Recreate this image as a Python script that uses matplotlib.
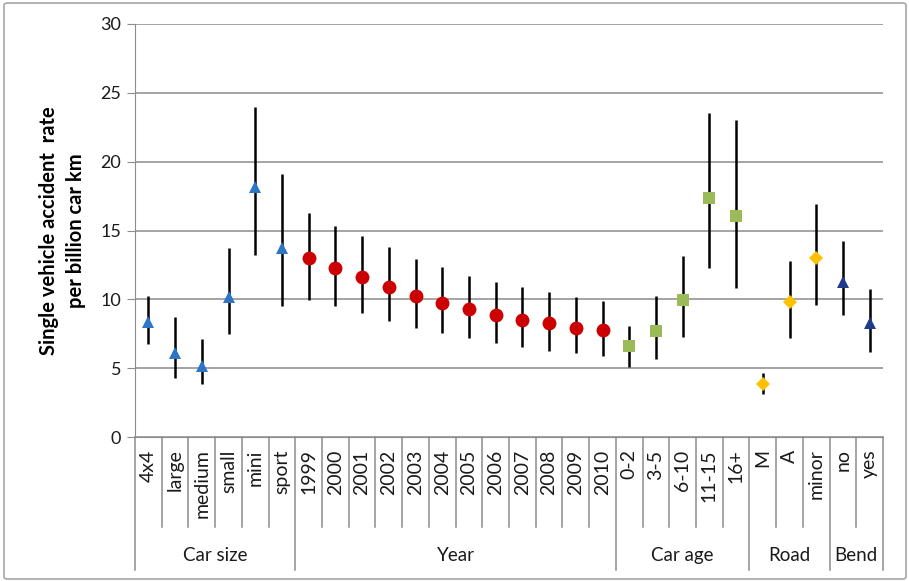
import matplotlib.pyplot as plt
import matplotlib.transforms as mtransforms
from matplotlib.patches import FancyBboxPatch
import numpy as np

plt.rcParams['font.family'] = ['Lato', 'DejaVu Sans']

# Groups of categories along the x axis
group_names = ["Car size", "Year", "Car age", "Road", "Bend"]

size_labels = ["4x4", "large", "medium", "small", "mini", "sport"]
size_rate = [8.37, 6.12, 5.18, 10.19, 18.13, 13.70]
size_lo = [6.73, 4.31, 3.85, 7.46, 13.22, 9.51]
size_hi = [10.26, 8.69, 7.12, 13.75, 23.99, 19.08]

year_labels = ["1999", "2000", "2001", "2002", "2003", "2004",
               "2005", "2006", "2007", "2008", "2009", "2010"]
year_rate = [12.97, 12.25, 11.60, 10.92, 10.24, 9.71, 9.27, 8.86, 8.50, 8.26, 7.94, 7.77]
year_lo = [9.95, 9.51, 9.03, 8.42, 7.89, 7.53, 7.17, 6.85, 6.56, 6.25, 6.12, 5.88]
year_hi = [16.29, 15.32, 14.60, 13.78, 12.93, 12.32, 11.72, 11.23, 10.87, 10.51, 10.15, 9.90]

age_labels = ["0-2", "3-5", "6-10", "11-15", "16+"]
age_rate = [6.61, 7.72, 9.95, 17.33, 16.05]
age_lo = [5.10, 5.64, 7.29, 12.25, 10.80]
age_hi = [8.08, 10.24, 13.17, 23.55, 23.02]

road_labels = ["M", "A", "minor"]
road_rate = [3.85, 9.78, 13.02]
road_lo = [3.10, 7.17, 9.59]
road_hi = [4.62, 12.81, 16.90]

bend_labels = ["no", "yes"]
bend_rate = [11.28, 8.26]
bend_lo = [8.86, 6.20]
bend_hi = [14.23, 10.75]

groups = [
    (size_labels, size_rate, size_lo, size_hi, '^', '#2E75C6', 9),
    (year_labels, year_rate, year_lo, year_hi, 'o', '#CC0000', 10),
    (age_labels, age_rate, age_lo, age_hi, 's', '#9BBB59', 9),
    (road_labels, road_rate, road_lo, road_hi, 'D', '#FFC000', 7),
    (bend_labels, bend_rate, bend_lo, bend_hi, '^', '#1F3C88', 9),
]

W, H = 909, 581
fig = plt.figure(figsize=(W / 100, H / 100), dpi=100)

# chart area border
fig.patches.append(FancyBboxPatch((4 / W, 2 / H), 902 / W, 576 / H,
                                  boxstyle="round,pad=0,rounding_size=0.004",
                                  transform=fig.transFigure, fill=False,
                                  edgecolor='#A6A6A6', lw=1.2))

ax = fig.add_axes([135 / W, 1 - 437 / H, 748 / W, 413 / H])

grid_c = '#8C8C8C'
text_c = '#1A1A1A'
all_labels = []
start = 0
bounds = [-0.5]
for labels, rate, lo, hi, mk, col, ms in groups:
    x = np.arange(start, start + len(labels))
    rate = np.array(rate)
    yerr = [rate - np.array(lo), np.array(hi) - rate]
    ax.errorbar(x, rate, yerr=yerr, fmt='none', ecolor='black', elinewidth=1.8,
                capsize=0, zorder=3)
    ax.plot(x, rate, linestyle='none', marker=mk, color=col, markersize=ms,
            markeredgewidth=0, zorder=4)
    all_labels += labels
    start += len(labels)
    bounds.append(start - 0.5)

n = len(all_labels)
ax.set_xlim(-0.5, n - 0.5)
ax.set_ylim(0, 30)
ax.set_yticks(range(0, 31, 5))
ax.yaxis.grid(True, color=grid_c, lw=1.1)
ax.set_axisbelow(True)
ax.set_xticks([])
for s in ['top', 'right']:
    ax.spines[s].set_visible(False)
ax.spines['left'].set_color(grid_c)
ax.spines['bottom'].set_color(grid_c)
ax.tick_params(axis='y', length=6, color=grid_c, labelsize=13, labelcolor=text_c, pad=4)

ax.set_ylabel("Single vehicle accident  rate\nper billion car km", fontsize=14.5,
              fontweight='bold', labelpad=10, linespacing=1.45, color='black')

# category axis drawn below the plot
trans = mtransforms.blended_transform_factory(ax.transData, ax.transAxes)
short_y, long_y = -0.218, -0.322
for i in range(n + 1):
    xb = i - 0.5
    y_end = long_y if xb in bounds else short_y
    ax.plot([xb, xb], [0, y_end], color=grid_c, lw=1.1, transform=trans, clip_on=False)
for i, lab in enumerate(all_labels):
    ax.text(i, -0.03, lab, rotation=90, ha='center', va='top', fontsize=14,
            color=text_c, transform=trans)
for name, a, b in zip(group_names, bounds[:-1], bounds[1:]):
    ax.text((a + b) / 2, -0.288, name, ha='center', va='center', fontsize=13.5,
            color=text_c, transform=trans)

fig.savefig("out.png", dpi=100)
